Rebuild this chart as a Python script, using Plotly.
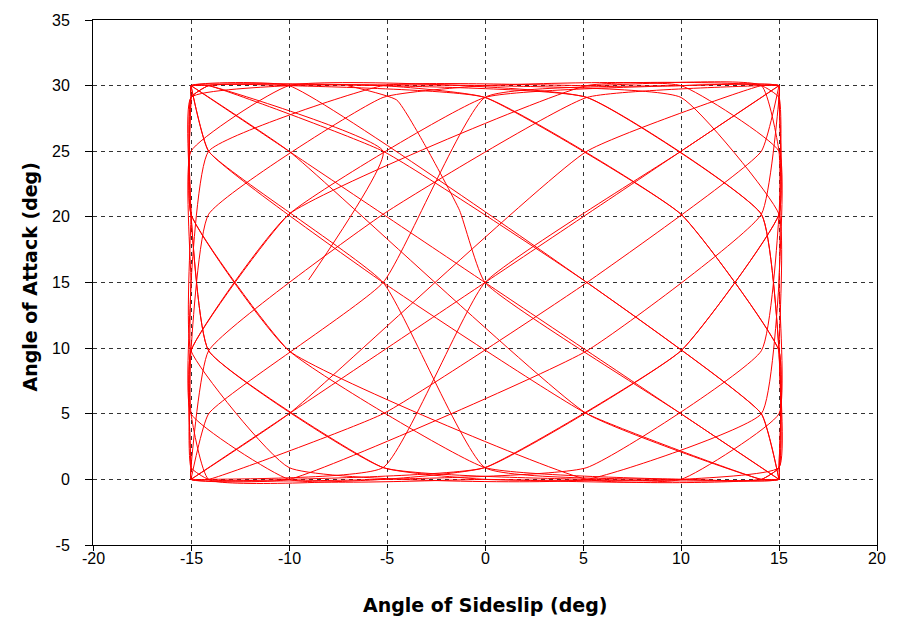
import plotly.graph_objects as go

# Trajectory (sideslip beta, angle of attack alpha), in degrees
beta_deg = [
    -7.0, -4.5, -3.0, -1.3, 0.0,
    10, 15, 15, 15, 10, 0, -10, -15, -15, -15, -10,
    5.2, 14.1, 15, 15, 14.1, 5.2, -5.2, -14.1, -15, -15, -14.1, -5.2,
    0, 10, 15, 15, 15, 10, 0, -10, -15, -15, -15, -10,
    5.2, 14.1, 15, 15, 14.1, 5.2, -5.2, -14.1, -15, -15, -14.1, -5.2,
    0, 10, 15, 15, 15, 10, 0, -10, -15, -15, -15, -10,
    5.2, 14.1, 15, 15, 14.1, 5.2, -5.2, -14.1, -15, -15, -14.1, -5.2,
    0, 10, 15, 15, 15, 10, 0, -10, -15, -15, -15, -10,
    5.2, 14.1, 15, 15, 14.1, 5.2, -5.2, -14.1, -15, -15, -14.1, -5.2,
    0, 10, 15, 15, 15, 10, 0, -10, -15, -15, -15, -10,
    5.2, 14.1, 15, 15, 14.1, 5.2, -5.2, -14.1, -15, -15, -14.1, -5.2,
    0, 10, 15, 15, 15, 10, 0, -10, -15, -15, -15, -10,
    5.2, 14.1, 15, 15, 14.1, 5.2, -5.2, -14.1, -15, -15, -14.1, -5.2,
    0, 10, 15, 15, 15, 10, 0, -10, -15, -15, -15, -10,
    5.2, 14.1, 15, 15, 14.1, 5.2, -5.2, -14.1, -15, -15, -14.1, -5.2,
    0, 10, 15, 15, 15, 10, 0, -10, -15, -15, -15, -10,
    5.2, 14.1, 15, 15, 14.1, 5.2, -5.2, -14.1, -15, -15, -14.1, -5.2,
    -9.0,
]
alpha_deg = [
    30.0, 28.9, 25.3, 20.5, 15.0,
    5, 0, 0, 0, 5, 15, 25, 30, 30, 30, 25,
    5, 0, 0, 0, 5, 15, 25, 30, 30, 30, 25, 15,
    0.9, 0, 0, 0.9, 9.8, 20.2, 29.1, 30, 30, 29.1, 20.2, 9.8,
    0, 0, 0.9, 9.8, 20.2, 29.1, 30, 30, 29.1, 20.2, 9.8, 0.9,
    0, 0, 0.9, 9.8, 20.2, 29.1, 30, 30, 29.1, 20.2, 9.8, 0.9,
    0, 5, 15, 25, 30, 30, 30, 25, 15, 5, 0, 0,
    0.9, 9.8, 20.2, 29.1, 30, 30, 29.1, 20.2, 9.8, 0.9, 0, 0,
    9.8, 20.2, 29.1, 30, 30, 29.1, 20.2, 9.8, 0.9, 0, 0, 0.9,
    15, 25, 30, 30, 30, 25, 15, 5, 0, 0, 0, 5,
    25, 30, 30, 30, 25, 15, 5, 0, 0, 0, 5, 15,
    29.1, 30, 30, 29.1, 20.2, 9.8, 0.9, 0, 0, 0.9, 9.8, 20.2,
    30, 30, 29.1, 20.2, 9.8, 0.9, 0, 0, 0.9, 9.8, 20.2, 29.1,
    30, 30, 25, 15, 5, 0, 0, 0, 5, 15, 25, 30,
    29.1, 20.2, 9.8, 0.9, 0, 0, 0.9, 9.8, 20.2, 29.1, 30, 30,
    29.1, 20.2, 9.8, 0.9, 0, 0, 0.9, 9.8, 20.2, 29.1, 30, 30,
    15, 5, 0, 0, 0, 5, 15, 25, 30, 30, 30, 25,
    15.2,
]

x_ticks = [-20, -15, -10, -5, 0, 5, 10, 15, 20]
y_ticks = [-5, 0, 5, 10, 15, 20, 25, 30, 35]
x_title = "Angle of Sideslip (deg)"
y_title = "Angle of Attack (deg)"

TICK_FONT = "Liberation Sans"
TITLE_FONT = "DejaVu Sans"

fig = go.Figure()
fig.add_trace(go.Scatter(
    x=beta_deg, y=alpha_deg, mode="lines",
    line=dict(color="#ff0000", width=1, shape="spline", smoothing=0.4),
    showlegend=False, hoverinfo="skip",
))

axis_common = dict(
    showgrid=True, gridcolor="#333333", gridwidth=1, griddash="4px,4px",
    showline=True, linecolor="#000000", linewidth=1, mirror=True,
    ticks="outside", tickcolor="#000000", automargin=False,
    zeroline=False, tickfont=dict(family=TICK_FONT, size=16, color="#000000"),
)

fig.update_xaxes(range=[-20, 20], tickvals=x_ticks, showticklabels=False,
                 ticklen=5, **axis_common)
fig.update_yaxes(range=[-5, 35], tickvals=y_ticks, ticktext=[str(v) for v in y_ticks],
                 ticklen=7, ticklabelstandoff=12, **axis_common)

# x tick labels placed just under the axis, at the axis' own tick positions
for v in x_ticks:
    fig.add_annotation(text=str(v), xref="x", yref="paper", x=v, y=-0.026,
                       xanchor="center", yanchor="middle", showarrow=False,
                       font=dict(family=TICK_FONT, size=16, color="#000000"))

fig.add_annotation(text="<b>" + x_title + "</b>", xref="paper", yref="paper",
                   x=0.5, y=-0.114, xanchor="center", yanchor="middle", showarrow=False,
                   font=dict(family=TITLE_FONT, size=19, color="#000000"))
fig.add_annotation(text="<b>" + y_title + "</b>", xref="paper", yref="paper",
                   x=-0.080, y=0.51, xanchor="center", yanchor="middle", showarrow=False,
                   textangle=-90,
                   font=dict(family=TITLE_FONT, size=19, color="#000000"))

fig.update_layout(
    width=895, height=611,
    margin=dict(l=85, r=26, t=12, b=74, autoexpand=False),
    paper_bgcolor="#ffffff", plot_bgcolor="#ffffff",
)

fig.write_html("out.html")
